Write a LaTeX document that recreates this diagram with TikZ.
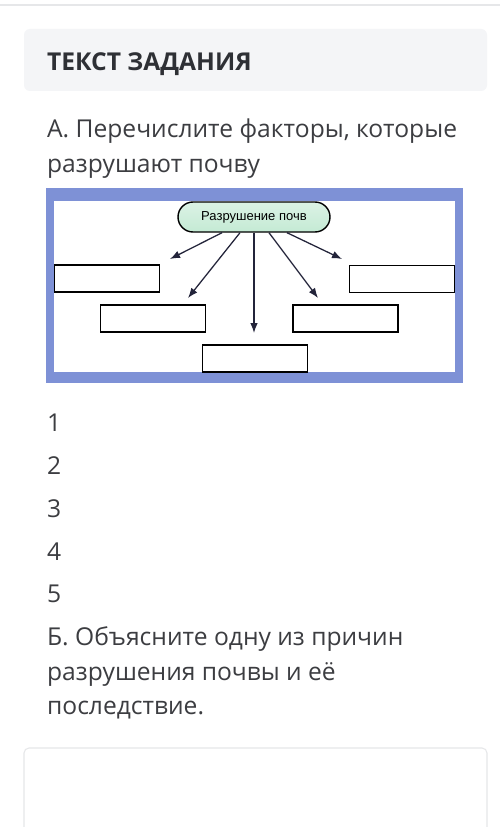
\documentclass[tikz,border=0pt]{standalone}
\usepackage{fontspec}
\setmainfont{Open Sans}
\newfontfamily\diagfont{Liberation Sans}
\usepackage{xcolor}
\definecolor{ink}{HTML}{3C3D41}
\definecolor{headink}{HTML}{2E3035}
\definecolor{panel}{HTML}{F4F5F7}
\definecolor{rulegray}{HTML}{E6E7E9}
\definecolor{framebl}{RGB}{126,145,214}
\definecolor{pillgr}{RGB}{196,234,212}
\definecolor{arrink}{HTML}{23243A}
\usetikzlibrary{arrows.meta, calc}

\begin{document}
\begin{tikzpicture}[
  x=0.5mm, y=-0.5mm,
  head/.style={anchor=base west, inner sep=0pt, text=headink,
               font=\fontsize{35}{42}\selectfont\bfseries},
  line/.style={anchor=base west, inner sep=0pt, text=ink,
               font=\fontsize{35}{42}\selectfont},
  pillbox/.style={rectangle, rounded corners=7.5mm, draw=black,
                  line width=2pt, top color=pillgr!60, bottom color=pillgr,
                  minimum width=76mm, minimum height=15mm, inner sep=0pt,
                  font=\diagfont\fontsize{18.5}{20}\selectfont},
  slot/.style={rectangle, draw=black, line width=2.2pt, fill=white,
               minimum width=52.5mm, minimum height=13.5mm, inner sep=0pt},
  arr/.style={draw=arrink, line width=1.8pt,
              -{Latex[length=5mm,width=3.8mm]}},
]
\useasboundingbox[fill=white] (0,0) rectangle (500,827);

%% --- cadres de la page ---
\draw[rulegray, line width=2pt] (0,5) -- (500,5);
\fill[panel, rounded corners=3mm] (24,29) rectangle (487,91);
\draw[rulegray, line width=1.5pt, rounded corners=2.5mm]
  (24,830) |- (487,748) -- (487,830);

%% --- textes ---
\node[head] (t0) at (47,71) {ТЕКСТ ЗАДАНИЯ};
\node[line] (qa1) at (47,138) {А. Перечислите факторы, которые};
\node[line] (qa2) at (47,173) {разрушают почву};

\node[line] (n1) at (47,431) {1};
\node[line] (n2) at (47,474) {2};
\node[line] (n3) at (47,517) {3};
\node[line] (n4) at (47,560) {4};
\node[line] (n5) at (47,602) {5};

\node[line] (qb1) at (47,645) {Б. Объясните одну из причин};
\node[line] (qb2) at (47,680) {разрушения почвы и её};
\node[line] (qb3) at (47,714) {последствие.};

%% --- schéma ---
\fill[framebl] (46,188) rectangle (463,383);
\fill[white] (54,201) rectangle (455,372);

\node[pillbox] (pill) at (254,217) {Разрушение почв};

\node[slot] (b1) at (107,278.5) {};
\node[slot] (b2) at (153,318.5) {};
\node[slot] (b3) at (255,358.5) {};
\node[slot] (b4) at (345.5,318.5) {};
\node[slot] (b5) at (402,279) {};

\coordinate (e1) at (170,259);
\coordinate (e2) at (188,298);
\coordinate (e3) at (254,333);
\coordinate (e4) at (318,298);
\coordinate (e5) at (342,259);

\draw[arr] ($(pill.south)+(-32,0)$) -- (e1);
\draw[arr] ($(pill.south)+(-14,0)$) -- (e2);
\draw[arr] (pill.south) -- (e3);
\draw[arr] ($(pill.south)+(15,0)$) -- (e4);
\draw[arr] ($(pill.south)+(33,0)$) -- (e5);
\end{tikzpicture}
\end{document}
